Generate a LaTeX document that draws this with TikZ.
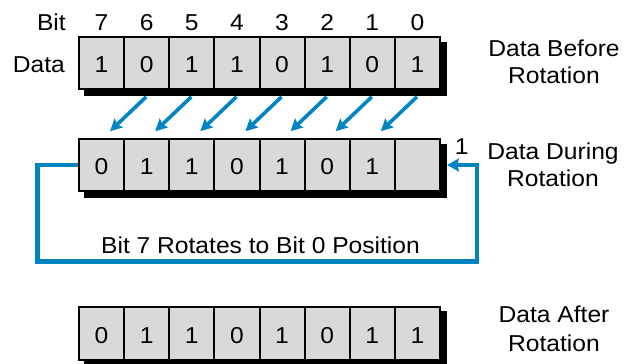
\documentclass[tikz,border=0pt]{standalone}
\usepackage{fontspec}
\setmainfont{Liberation Sans}[FakeStretch=1.07]
\usetikzlibrary{arrows.meta,backgrounds}
\definecolor{rotblue}{RGB}{0,132,196}
\definecolor{cellgray}{RGB}{217,217,217}
\begin{document}
\begin{tikzpicture}[x=1pt,y=-1pt,
  cell/.style={draw,line width=2pt,fill=cellgray,minimum width=45.125pt,
    minimum height=52.6pt,inner sep=0pt,font=\fontsize{23}{27}\selectfont,
    text height=19.4pt,text depth=0pt},
  lbl/.style={font=\fontsize{23}{27}\selectfont,inner sep=0pt,anchor=base},
  shadowbox/.style={fill=black},
  diag/.style={draw=rotblue,line width=3.6pt,-{Stealth[length=12pt,width=12pt,inset=2pt]}},
  rotline/.style={draw=rotblue,line width=4.2pt,line join=miter,-{Stealth[length=12pt,width=13pt,inset=2pt]}}]
\useasboundingbox (0,0) rectangle (624,364);

% top register
\foreach \v [count=\k from 0] in {1,0,1,1,0,1,0,1} {
  \pgfmathtruncatemacro\b{7-\k}
  \node[cell] (t\b) at ({79+45.125*(\k+0.5)},63) {\v};
  \node[lbl] (n\b) at ({79+45.125*(\k+0.5)},30.7) {\b};
}
% middle register
\foreach \v [count=\k from 0] in {0,1,1,0,1,0,1,{}} {
  \pgfmathtruncatemacro\b{7-\k}
  \node[cell] (m\b) at ({79+45.125*(\k+0.5)},165) {\v};
}
% bottom register
\foreach \v [count=\k from 0] in {0,1,1,0,1,0,1,1} {
  \pgfmathtruncatemacro\b{7-\k}
  \node[cell] (b\b) at ({79+45.125*(\k+0.5)},333.3) {\v};
}

\begin{scope}[on background layer]
  \fill[shadowbox] ([xshift=5.5pt,yshift=-6pt]t7.north west) rectangle ([xshift=5.5pt,yshift=-6pt]t0.south east);
  \fill[shadowbox] ([xshift=5.5pt,yshift=-6pt]m7.north west) rectangle ([xshift=5.5pt,yshift=-6pt]m0.south east);
  \fill[shadowbox] ([xshift=5.5pt,yshift=-5pt]b7.north west) rectangle ([xshift=5.5pt,yshift=-5pt]b0.south east);
\end{scope}

% left labels
\node[lbl,anchor=base east] (bitlbl) at (66,30.7) {Bit};
\node[lbl,anchor=base east] (datalbl) at (65,72.7) {Data};

% right labels
\node[lbl] (before1) at (554,56) {Data Before};
\node[lbl] (before2) at (554,83) {Rotation};
\node[lbl] (during1) at (553,159.3) {Data During};
\node[lbl] (during2) at (553,186.7) {Rotation};
\node[lbl] (after1) at (554,322.7) {Data After};
\node[lbl] (after2) at (554,351.7) {Rotation};

% shift arrows
\foreach \i in {0,...,6} {
  \pgfmathtruncatemacro\j{\i+1}
  \draw[diag] ([xshift=-0.5pt,yshift=-6.5pt]t\i.south) -- ([xshift=8.5pt,yshift=6.5pt]m\j.north);
}

% rotation loop
\coordinate (lbl) at (37.5,261.5);
\coordinate (lbr) at (476.7,261.5);
\draw[rotline] (m7.west) -| (lbl) -- (lbr) |- ([xshift=6pt]m0.east);
\node[lbl] (carry) at (461.7,154.3) {1};
\node[lbl] (rotnote) at (260.5,253.3) {Bit 7 Rotates to Bit 0 Position};
\end{tikzpicture}
\end{document}
